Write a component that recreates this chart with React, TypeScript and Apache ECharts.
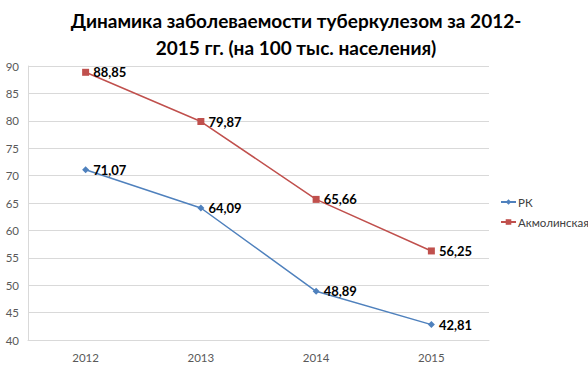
import React, { useEffect, useRef } from "react";
import * as echarts from "echarts";

const categories = ["2012", "2013", "2014", "2015"];
const rkValues = [71.07, 64.09, 48.89, 42.81];
const akmValues = [88.85, 79.87, 65.66, 56.25];
const seriesNames = ["РК", "Акмолинская"];
const titleText = "Динамика заболеваемости туберкулезом за 2012-\n2015 гг. (на 100 тыс. населения)";

export default function App() {
  const ref = useRef<HTMLDivElement>(null);
  useEffect(() => {
    if (!ref.current) return;
    const chart = echarts.init(ref.current, undefined, { renderer: "svg" });
    const fmt = (p: any) => String(p.value).replace(".", ",");
    const label = {
      show: true,
      position: "right",
      distance: 4,
      formatter: fmt,
      color: "#000",
      fontWeight: "bold",
      fontSize: 13,
      fontFamily: "Lato",
    };
    chart.setOption({
      animation: false,
      backgroundColor: "#fff",
      graphic: [
        {
          type: "text",
          x: 296,
          y: 7,
          style: {
            text: titleText,
            textAlign: "center",
            fontFamily: "Lato",
            fontWeight: "bold",
            fontSize: 19,
            lineHeight: 27,
            fill: "#000",
          },
        },
      ],
      legend: {
        orient: "vertical",
        left: 495,
        top: 196,
        padding: [0, 0, 0, 5],
        itemWidth: 15,
        itemHeight: 7,
        itemGap: 8,
        textStyle: { fontFamily: "Lato", fontSize: 11.5, color: "#404040", padding: [0, 0, 0, -3] },
        data: seriesNames,
      },
      grid: { left: 28, right: 99, top: 66, bottom: 27 },
      xAxis: {
        type: "category",
        data: categories,
        boundaryGap: true,
        axisLine: { lineStyle: { color: "#d9d9d9" } },
        axisTick: { show: false },
        axisLabel: { color: "#595959", fontSize: 11.5, fontFamily: "Lato", margin: 11 },
      },
      yAxis: {
        type: "value",
        min: 40,
        max: 90,
        interval: 5,
        axisLine: { show: true, lineStyle: { color: "#d9d9d9" } },
        axisTick: { show: false },
        splitLine: { lineStyle: { color: "#d9d9d9" } },
        axisLabel: { color: "#595959", fontSize: 11.5, fontFamily: "Lato", margin: 9 },
      },
      series: [
        {
          name: seriesNames[0],
          type: "line",
          data: rkValues,
          color: "#4F81BD",
          symbol: "diamond",
          symbolSize: 7,
          lineStyle: { width: 1.5 },
          label,
        },
        {
          name: seriesNames[1],
          type: "line",
          data: akmValues,
          color: "#C0504D",
          symbol: "rect",
          symbolSize: 7,
          lineStyle: { width: 1.5 },
          label,
        },
      ],
    });
    return () => chart.dispose();
  }, []);
  return <div ref={ref} style={{ width: 588, height: 367, position: "absolute", left: 0, top: 0 }} />;
}
